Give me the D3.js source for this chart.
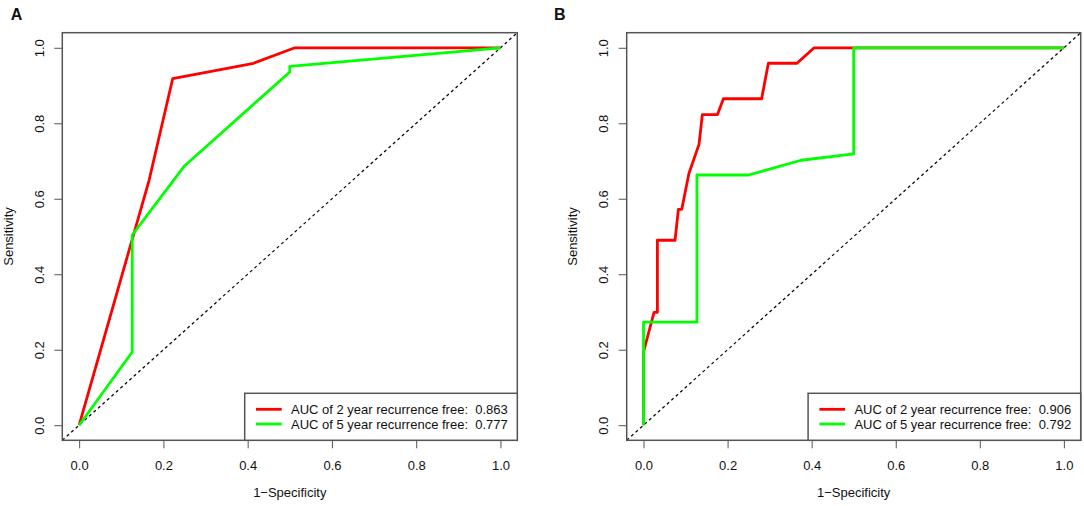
<!DOCTYPE html>
<html>
<head>
<meta charset="utf-8">
<script src="https://cdn.jsdelivr.net/npm/d3@7"></script>
<style>
  body { margin: 0; background: #fff; }
  text { font-family: "Liberation Sans", Arial, sans-serif; fill: #111; }
</style>
</head>
<body>
<div id="chart"></div>
<script>
// axis ticks (same for both axes and panels)
const ticks = [0, 0.2, 0.4, 0.6, 0.8, 1.0];

const seriesNames = ["AUC of 2 year recurrence free:", "AUC of 5 year recurrence free:"];
const seriesColors = ["#ff0000", "#00ff00"];

// panel A
const aucA = ["0.863", "0.777"];
const fprA2 = [0, 0.166, 0.222, 0.414, 0.512, 1];
const tprA2 = [0, 0.649, 0.918, 0.959, 1.0, 1];
const fprA5 = [0, 0.126, 0.126, 0.250, 0.500, 0.500, 1];
const tprA5 = [0, 0.194, 0.504, 0.687, 0.936, 0.951, 1];

// panel B
const aucB = ["0.906", "0.792"];
const fprB2 = [0, 0, 0.025, 0.033, 0.033, 0.075, 0.083, 0.091, 0.108, 0.132, 0.140, 0.176, 0.190, 0.281, 0.297, 0.365, 0.406, 1];
const tprB2 = [0, 0.194, 0.299, 0.299, 0.490, 0.490, 0.572, 0.572, 0.667, 0.744, 0.823, 0.823, 0.865, 0.865, 0.959, 0.959, 1.0, 1];
const fprB5 = [0, 0, 0.127, 0.127, 0.250, 0.375, 0.500, 0.500, 1];
const tprB5 = [0, 0.273, 0.273, 0.663, 0.663, 0.702, 0.719, 1.0, 1];

const width = 1084, height = 506;
const boxTop = 32.7, boxBottom = 440.3;
const boxColor = "#555";

const svg = d3.select("#chart").append("svg")
    .attr("width", width)
    .attr("height", height)
    .attr("viewBox", [0, 0, width, height]);

function drawPanel({id, label, labelX, boxLeft, boxRight, ylabX, series, auc}) {
    const xScale = d3.scaleLinear().domain([-0.04, 1.04]).range([boxLeft, boxRight]);
    const yScale = d3.scaleLinear().domain([-0.04, 1.04]).range([boxBottom, boxTop]);
    const g = svg.append("g");

    g.append("text")
        .attr("x", labelX)
        .attr("y", 20)
        .attr("font-size", 16)
        .attr("font-weight", "bold")
        .text(label);

    g.append("clipPath")
        .attr("id", "clip" + id)
        .append("rect")
        .attr("x", boxLeft)
        .attr("y", boxTop)
        .attr("width", boxRight - boxLeft)
        .attr("height", boxBottom - boxTop);

    const plot = g.append("g").attr("clip-path", `url(#clip${id})`);

    // reference diagonal
    plot.append("line")
        .attr("x1", xScale(-0.04)).attr("y1", yScale(-0.04))
        .attr("x2", xScale(1.04)).attr("y2", yScale(1.04))
        .attr("stroke", "#000")
        .attr("stroke-width", 1.2)
        .attr("stroke-dasharray", "3,3");

    const line = d3.line()
        .x(d => xScale(d[0]))
        .y(d => yScale(d[1]));

    series.forEach((s, i) => {
        plot.append("path")
            .attr("fill", "none")
            .attr("stroke", seriesColors[i])
            .attr("stroke-width", 2.8)
            .attr("stroke-linejoin", "round")
            .attr("d", line(d3.zip(s.x, s.y)));
    });

    // x axis
    const xAxis = d3.axisBottom(xScale).tickValues(ticks).tickSize(8).tickFormat(d3.format(".1f"));
    g.append("g")
        .attr("transform", `translate(0,${boxBottom})`)
        .call(xAxis)
        .call(a => a.select(".domain").remove())
        .call(a => a.selectAll(".tick line").attr("stroke", boxColor))
        .call(a => a.selectAll(".tick text")
            .attr("y", 29.3).attr("dy", null)
            .attr("font-size", 13)
            .attr("fill", "#111"));

    // y axis
    const yAxis = d3.axisLeft(yScale).tickValues(ticks).tickSize(8).tickFormat(d3.format(".1f"));
    g.append("g")
        .attr("transform", `translate(${boxLeft},0)`)
        .call(yAxis)
        .call(a => a.select(".domain").remove())
        .call(a => a.selectAll(".tick line").attr("stroke", boxColor))
        .call(a => a.selectAll(".tick text")
            .attr("x", null).attr("dy", null)
            .attr("transform", "translate(-18.7,0) rotate(-90)")
            .attr("text-anchor", "middle")
            .attr("font-size", 13)
            .attr("fill", "#111"));

    g.append("rect")
        .attr("x", boxLeft)
        .attr("y", boxTop)
        .attr("width", boxRight - boxLeft)
        .attr("height", boxBottom - boxTop)
        .attr("fill", "none")
        .attr("stroke", boxColor)
        .attr("stroke-width", 1.5);

    g.append("text")
        .attr("x", xScale(0.5))
        .attr("y", 497)
        .attr("text-anchor", "middle")
        .attr("font-size", 13)
        .text("1\u2212Specificity");

    g.append("text")
        .attr("transform", `translate(${ylabX},${yScale(0.5)}) rotate(-90)`)
        .attr("text-anchor", "middle")
        .attr("font-size", 13)
        .text("Sensitivity");

    // legend, bottom right
    const legLeft = boxRight - 272.6, legTop = 393.3;
    g.append("rect")
        .attr("x", legLeft)
        .attr("y", legTop)
        .attr("width", boxRight - legLeft)
        .attr("height", boxBottom - legTop)
        .attr("fill", "#fff")
        .attr("stroke", boxColor)
        .attr("stroke-width", 1.5);

    seriesNames.forEach((name, i) => {
        const ly = 409.3 + i * 14.7;
        g.append("line")
            .attr("x1", legLeft + 11.3).attr("x2", legLeft + 37)
            .attr("y1", ly).attr("y2", ly)
            .attr("stroke", seriesColors[i])
            .attr("stroke-width", 2.8);
        g.append("text")
            .attr("x", legLeft + 46.3)
            .attr("y", ly)
            .attr("dy", "0.35em")
            .attr("font-size", 13)
            .attr("xml:space", "preserve")
            .style("white-space", "pre")
            .text(`${name}  ${auc[i]}`);
    });
}

drawPanel({
    id: "A", label: "A", labelX: 10.7,
    boxLeft: 62.3, boxRight: 517.3, ylabX: 13.3,
    series: [{x: fprA2, y: tprA2}, {x: fprA5, y: tprA5}],
    auc: aucA
});

drawPanel({
    id: "B", label: "B", labelX: 554,
    boxLeft: 626.7, boxRight: 1080.7, ylabX: 576.5,
    series: [{x: fprB2, y: tprB2}, {x: fprB5, y: tprB5}],
    auc: aucB
});
</script>
</body>
</html>
